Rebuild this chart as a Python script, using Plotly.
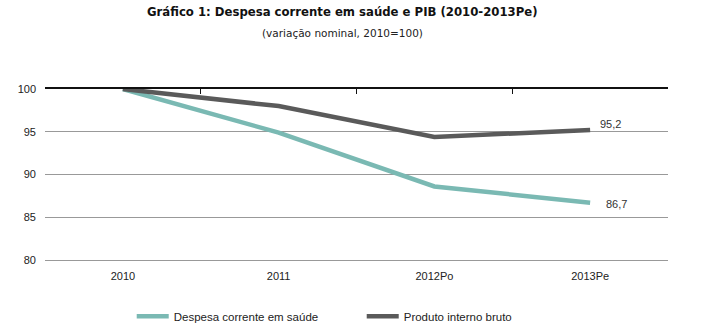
import plotly.graph_objects as go

categories = ["2010", "2011", "2012Po", "2013Pe"]
despesa = [100, 94.9, 88.6, 86.7]
pib = [100, 98.0, 94.4, 95.2]
despesa_name = "Despesa corrente em saúde"
pib_name = "Produto interno bruto"
y_ticks = [80, 85, 90, 95, 100]

teal = "#7ab9b3"
grey = "#5a5a5a"
font = "Liberation Sans, Arial, sans-serif"

fig = go.Figure()
fig.add_trace(go.Scatter(x=categories, y=despesa, mode="lines", name=despesa_name,
                         line=dict(color=teal, width=4.5)))
fig.add_trace(go.Scatter(x=categories, y=pib, mode="lines", name=pib_name,
                         line=dict(color=grey, width=4.5)))
# dummy trace to draw top axis ticks
fig.add_trace(go.Scatter(x=categories, y=[None]*4, xaxis="x2", showlegend=False, hoverinfo="skip"))

fig.add_annotation(x=categories[-1], y=pib[-1], text=f"{pib[-1]:.1f}".replace(".", ","),
                   showarrow=False, xanchor="left", xshift=8, yshift=6,
                   font=dict(family=font, size=11, color="#333"))
fig.add_annotation(x=categories[-1], y=despesa[-1], text=f"{despesa[-1]:.1f}".replace(".", ","),
                   showarrow=False, xanchor="left", xshift=14, yshift=-1,
                   font=dict(family=font, size=11, color="#333"))

fig.add_annotation(xref="paper", yref="paper", x=0.477, y=1, yshift=77, text="<b>Gráfico 1: Despesa corrente em saúde e PIB (2010-2013Pe)</b>",
                   showarrow=False, font=dict(family="DejaVu Sans", size=11.7, color="#111"), yanchor="middle")
fig.add_annotation(xref="paper", yref="paper", x=0.477, y=1, yshift=56, text="(variação nominal, 2010=100)",
                   showarrow=False, font=dict(family="DejaVu Sans", size=10.5, color="#222"), yanchor="middle")

fig.update_layout(
    width=712, height=326,
    margin=dict(l=45, r=44, t=89, b=66, autoexpand=False),
    paper_bgcolor="white", plot_bgcolor="white",
    font=dict(family=font, size=11, color="#222"),
    showlegend=True,
    legend=dict(orientation="h", xref="container", yref="container", x=0.185, xanchor="left",
                y=0.03, yanchor="middle",
                font=dict(family=font, size=11.5, color="#222"), itemwidth=32, tracegroupgap=0,
                entrywidth=183),
    xaxis=dict(type="category", range=[-0.5, 3.5], showgrid=False, showline=True,
               linecolor="#999", linewidth=1,
               ticks="", tickfont=dict(size=11), fixedrange=True, ticklabelstandoff=6),
    xaxis2=dict(type="linear", range=[-0.5, 3.5], overlaying="x", side="top", anchor="y",
                showline=True, linecolor="#111", linewidth=1.5, ticks="inside", ticklen=5,
                tickcolor="#111", tickvals=[-0.5, 0.5, 1.5, 2.5, 3.5], showticklabels=False,
                showgrid=False, zeroline=False),
    yaxis=dict(range=[80, 100], tickvals=y_ticks, showgrid=True, gridcolor="#999", gridwidth=1,
               zeroline=False, showline=False, ticks="", tickfont=dict(size=11), ticklabelstandoff=8),
)
fig.write_html("out.html")
